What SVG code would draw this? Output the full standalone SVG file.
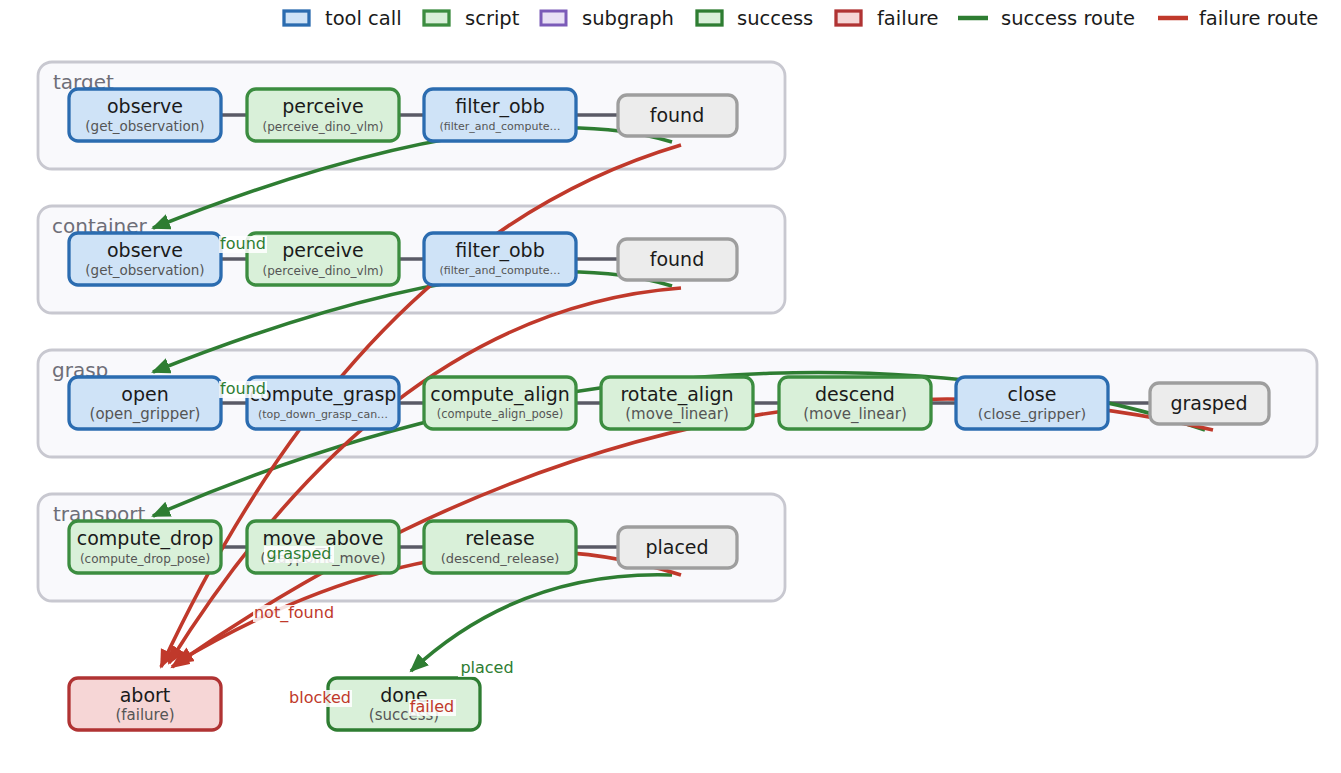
<svg xmlns="http://www.w3.org/2000/svg" width="1341" height="773" viewBox="0 0 1341 773">
<defs>
<style>
text{font-family:"DejaVu Sans","Liberation Sans",sans-serif;}
.cl{fill:#f9f9fc;stroke:#c8c8d0;stroke-width:2.8;}
.cll{font-size:20px;fill:#6e6e78;}
.tool{fill:#cfe3f7;stroke:#2b6cb0;stroke-width:3.3;}
.script{fill:#d9f0d9;stroke:#3c8d40;stroke-width:3.3;}
.state{fill:#ececec;stroke:#9e9e9e;stroke-width:3.3;}
.fail{fill:#f6d6d6;stroke:#b03333;stroke-width:3.3;}
.succ{fill:#d9f0d9;stroke:#2e7d32;stroke-width:3.3;}
.sub{fill:#e8e0f5;stroke:#7b5bb8;stroke-width:3;}
.t{font-size:19px;fill:#1a1a1a;text-anchor:middle;}
.s{fill:#555;text-anchor:middle;}
.seq{stroke:#5a5a66;stroke-width:3.5;fill:none;}
.ge{stroke:#2e7d32;stroke-width:3.6;fill:none;}
.re{stroke:#c0392b;stroke-width:3.6;fill:none;}
.gl{font-size:16px;fill:#2e7d32;text-anchor:middle;}
.rl{font-size:16px;fill:#c0392b;text-anchor:middle;}
.lbg{fill:#ffffff;fill-opacity:0.85;}
.lg{font-size:19.5px;fill:#1a1a1a;}
</style>
<marker id="ag" markerUnits="userSpaceOnUse" markerWidth="22" markerHeight="18" refX="17" refY="8" orient="auto"><path d="M0,0 L19,8 L0,16 z" fill="#2e7d32"/></marker>
<marker id="ar" markerUnits="userSpaceOnUse" markerWidth="22" markerHeight="18" refX="17" refY="8" orient="auto"><path d="M0,0 L19,8 L0,16 z" fill="#c0392b"/></marker>
</defs>
<rect width="1341" height="773" fill="#ffffff"/>

<g id="legend">
<rect x="284" y="11" width="25" height="14" class="tool"/><text x="325" y="25" class="lg">tool call</text>
<rect x="424" y="11" width="25" height="14" class="script"/><text x="465" y="25" class="lg">script</text>
<rect x="541" y="11" width="25" height="14" class="sub"/><text x="582" y="25" class="lg">subgraph</text>
<rect x="697" y="11" width="25" height="14" class="succ"/><text x="737" y="25" class="lg">success</text>
<rect x="836" y="11" width="25" height="14" class="fail"/><text x="877" y="25" class="lg">failure</text>
<line x1="958" y1="18" x2="988" y2="18" stroke="#2e7d32" stroke-width="4.5"/><text x="1001" y="25" class="lg">success route</text>
<line x1="1158" y1="18" x2="1188" y2="18" stroke="#c0392b" stroke-width="4.5"/><text x="1199" y="25" class="lg">failure route</text>
</g>

<g id="clusters">
<g id="cluster-target"><rect x="38" y="62" width="747" height="107" rx="14" class="cl"/><text x="53" y="89" class="cll">target</text></g>
<g id="cluster-container"><rect x="38" y="206" width="747" height="107" rx="14" class="cl"/><text x="52" y="233" class="cll">container</text></g>
<g id="cluster-grasp"><rect x="38" y="350" width="1279" height="107" rx="14" class="cl"/><text x="52" y="377" class="cll">grasp</text></g>
<g id="cluster-transport"><rect x="38" y="494" width="747" height="107" rx="14" class="cl"/><text x="53" y="521" class="cll">transport</text></g>
</g>

<g id="connectors">
<path class="seq" d="M145,115 L677,115"/>
<path class="seq" d="M145,259 L677,259"/>
<path class="seq" d="M145,403 L1209,403"/>
<path class="seq" d="M145,547 L677,547"/>
<path class="ge" d="M672,142 Q500,90 153,228" marker-end="url(#ag)"/>
<path class="ge" d="M672,286 Q500,234 153,372" marker-end="url(#ag)"/>
<path class="ge" d="M1205,430 C1000,360 600,320 153,516" marker-end="url(#ag)"/>
<path class="ge" d="M672,575 Q520,570 411,671" marker-end="url(#ag)"/>
<path class="re" d="M681,145 Q360,240 161,667" marker-end="url(#ar)"/>
<path class="re" d="M681,288 Q390,310 169,663" marker-end="url(#ar)"/>
<path class="re" d="M1213,430 Q688,308 172,667" marker-end="url(#ar)"/>
<path class="re" d="M681,575 Q450,500 176,663" marker-end="url(#ar)"/>
</g>

<g id="n-target-observe"><rect x="69" y="89" width="152" height="52" rx="9" class="tool"/><text x="145" y="113" class="t">observe</text><text x="145" y="131" class="s" font-size="13.5">(get_observation)</text></g>
<g id="n-target-perceive"><rect x="247" y="89" width="152" height="52" rx="9" class="script"/><text x="323" y="113" class="t">perceive</text><text x="323" y="131" class="s" font-size="12">(perceive_dino_vlm)</text></g>
<g id="n-target-filter"><rect x="424" y="89" width="152" height="52" rx="9" class="tool"/><text x="500" y="113" class="t">filter_obb</text><text x="500" y="130" class="s" font-size="11">(filter_and_compute…</text></g>
<g id="n-target-found"><rect x="618" y="95" width="119" height="41" rx="9" class="state"/><text x="677" y="122" class="t">found</text></g>

<g id="n-container-observe"><rect x="69" y="233" width="152" height="52" rx="9" class="tool"/><text x="145" y="257" class="t">observe</text><text x="145" y="275" class="s" font-size="13.5">(get_observation)</text></g>
<g id="n-container-perceive"><rect x="247" y="233" width="152" height="52" rx="9" class="script"/><text x="323" y="257" class="t">perceive</text><text x="323" y="275" class="s" font-size="12">(perceive_dino_vlm)</text></g>
<g id="n-container-filter"><rect x="424" y="233" width="152" height="52" rx="9" class="tool"/><text x="500" y="257" class="t">filter_obb</text><text x="500" y="274" class="s" font-size="11">(filter_and_compute…</text></g>
<g id="n-container-found"><rect x="618" y="239" width="119" height="41" rx="9" class="state"/><text x="677" y="266" class="t">found</text></g>

<g id="n-open"><rect x="69" y="377" width="152" height="52" rx="9" class="tool"/><text x="145" y="401" class="t">open</text><text x="145" y="419" class="s" font-size="15">(open_gripper)</text></g>
<g id="n-compute-grasp"><rect x="247" y="377" width="152" height="52" rx="9" class="tool"/><text x="323" y="401" class="t" font-size="18">compute_grasp</text><text x="323" y="418" class="s" font-size="11">(top_down_grasp_can…</text></g>
<g id="n-compute-align"><rect x="424" y="377" width="152" height="52" rx="9" class="script"/><text x="500" y="401" class="t" font-size="17.5">compute_align</text><text x="500" y="418" class="s" font-size="11.5">(compute_align_pose)</text></g>
<g id="n-rotate-align"><rect x="601" y="377" width="152" height="52" rx="9" class="script"/><text x="677" y="401" class="t">rotate_align</text><text x="677" y="419" class="s" font-size="15">(move_linear)</text></g>
<g id="n-descend"><rect x="779" y="377" width="152" height="52" rx="9" class="script"/><text x="855" y="401" class="t">descend</text><text x="855" y="419" class="s" font-size="15">(move_linear)</text></g>
<g id="n-close"><rect x="956" y="377" width="152" height="52" rx="9" class="tool"/><text x="1032" y="401" class="t">close</text><text x="1032" y="419" class="s" font-size="14.5">(close_gripper)</text></g>
<g id="n-grasped"><rect x="1150" y="383" width="119" height="41" rx="9" class="state"/><text x="1209" y="410" class="t">grasped</text></g>

<g id="n-compute-drop"><rect x="69" y="521" width="152" height="52" rx="9" class="script"/><text x="145" y="545" class="t">compute_drop</text><text x="145" y="563" class="s" font-size="12">(compute_drop_pose)</text></g>
<g id="n-move-above"><rect x="247" y="521" width="152" height="52" rx="9" class="script"/><text x="323" y="545" class="t">move_above</text><text x="323" y="563" class="s" font-size="14.5">(waypoint_move)</text></g>
<g id="n-release"><rect x="424" y="521" width="152" height="52" rx="9" class="script"/><text x="500" y="545" class="t">release</text><text x="500" y="563" class="s" font-size="13">(descend_release)</text></g>
<g id="n-placed"><rect x="618" y="527" width="119" height="41" rx="9" class="state"/><text x="677" y="554" class="t">placed</text></g>

<g id="n-abort"><rect x="69" y="678" width="152" height="52" rx="9" class="fail"/><text x="145" y="702" class="t">abort</text><text x="145" y="720" class="s" font-size="15">(failure)</text></g>
<g id="n-done"><rect x="328" y="678" width="152" height="52" rx="9" class="succ"/><text x="404" y="702" class="t">done</text><text x="404" y="720" class="s" font-size="15">(success)</text></g>

<g id="edge-labels">
<rect x="219" y="236" width="48" height="17" class="lbg"/><text x="243" y="249" class="gl">found</text>
<rect x="219" y="381" width="48" height="17" class="lbg"/><text x="243" y="394" class="gl">found</text>
<rect x="264" y="546" width="70" height="17" class="lbg"/><text x="299" y="559" class="gl">grasped</text>
<rect x="253" y="605" width="83" height="17" class="lbg"/><text x="294" y="618" class="rl">not_found</text>
<rect x="458" y="660" width="58" height="17" class="lbg"/><text x="487" y="673" class="gl">placed</text>
<rect x="288" y="690" width="64" height="17" class="lbg"/><text x="320" y="703" class="rl">blocked</text>
<rect x="409" y="699" width="47" height="17" class="lbg"/><text x="432" y="712" class="rl">failed</text>
</g>
</svg>
